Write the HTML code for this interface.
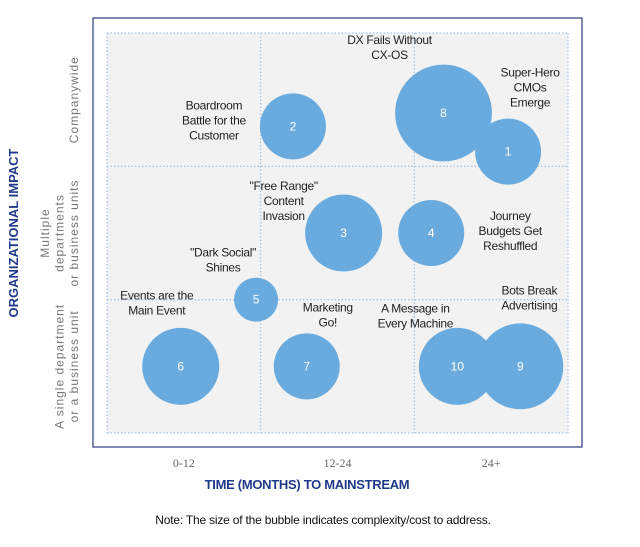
<!DOCTYPE html>
<html><head><meta charset="utf-8"><style>
body{margin:0;background:#fff;width:640px;height:547px;overflow:hidden;font-family:"Liberation Sans",Arial,sans-serif}
svg{display:block}
</style></head><body>
<svg id="chart" width="640" height="547" viewBox="0 0 640 547">
<rect x="93" y="18" width="489" height="429" fill="#fff" stroke="#2c3d7e" stroke-width="1.2"/>
<g id="plot"></g>
<text x="18" y="233" transform="rotate(-90 18 233)" text-anchor="middle" font-size="13" font-weight="bold" fill="#1f3a8a">ORGANIZATIONAL IMPACT</text>
<text x="323" y="524" text-anchor="middle" font-size="12" fill="#111" letter-spacing="-0.2">Note: The size of the bubble indicates complexity/cost to address.</text>
<text x="307" y="489" text-anchor="middle" font-size="13" font-weight="bold" fill="#1f3a8a" letter-spacing="-0.3">TIME (MONTHS) TO MAINSTREAM</text>
</svg>
<script>
const categories=["1","2","3","4","5","6","7","8","9","10"];
const xValues=[2.61,1.21,1.54,2.11,0.97,0.48,1.30,2.19,2.69,2.28];
const yValues=[2.11,2.30,1.50,1.50,1.00,0.50,0.50,2.40,0.50,0.50];
const sizes=[3.0,3.0,3.5,3.0,2.0,3.5,3.0,4.4,3.9,3.5];
const xTicks=["0-12","12-24","24+"];
const yTicks=[["A single department","or a business unit"],["Multiple","departments","or business units"],["Companywide"]];
const labels=[["Super-Hero","CMOs","Emerge"],["Boardroom","Battle for the","Customer"],["\"Free Range\"","Content","Invasion"],["Journey","Budgets Get","Reshuffled"],["\"Dark Social\"","Shines"],["Events are the","Main Event"],["Marketing","Go!"],["DX Fails Without","CX-OS"],["Bots Break","Advertising"],["A Message in","Every Machine"]];
const labelDx=[22,-79,-60,79,-33,-24,21,-54,9,-42];
const labelDy=[-75,-17,-43,-13,-43,-67,-55,-69,-72,-54];

const NS="http://www.w3.org/2000/svg";
const svg=document.getElementById('chart');
const plot=document.getElementById('plot');
const X0=107,X1=568,Y0=433,Y1=33;
const xs=v=>X0+v*(X1-X0)/3;
const ys=v=>Y0-v*(Y0-Y1)/3;
const rs=v=>v*11;
function el(t,a,p){const e=document.createElementNS(NS,t);for(const k in a)e.setAttribute(k,a[k]);(p||svg).appendChild(e);return e;}
const defs=el('defs',{});
const cp=el('clipPath',{id:'clip'},defs);el('rect',{x:X0,y:Y1,width:X1-X0,height:Y0-Y1},cp);
const bg=el('rect',{x:X0,y:Y1,width:X1-X0,height:Y0-Y1,fill:'#f2f2f2'},plot);


for(let i=0;i<=3;i++){
  const v=el('line',{x1:xs(i),x2:xs(i),y1:Y1,y2:Y0,stroke:'#a8c6e4','stroke-width':1.3,'stroke-dasharray':'1.5 2'},plot);
  
  
  const h=el('line',{x1:X0,x2:X1,y1:ys(i),y2:ys(i),stroke:'#a8c6e4','stroke-width':1.3,'stroke-dasharray':'1.5 2'},plot);
  
  
}
const bub=el('g',{'clip-path':'url(#clip)'},plot);
categories.forEach((c,i)=>{
  const cx=xs(xValues[i]),cy=ys(yValues[i]);
  const ci=el('circle',{cx:cx,cy:cy,r:rs(sizes[i]),fill:'#6aabdf'},bub);
  
  
  const t=el('text',{x:cx,y:cy+4,'text-anchor':'middle','font-size':12,fill:'#fff'},bub);
  t.textContent=c;
  
  
});
categories.forEach((c,i)=>{
  const cx=xs(xValues[i])+labelDx[i],cy=ys(yValues[i])+labelDy[i];
  const t=el('text',{'text-anchor':'middle','font-size':12,fill:'#222','letter-spacing':'-0.3'},plot);
  
  
  labels[i].forEach((ln,j)=>{const s=el('tspan',{x:cx,y:cy+j*15},t);s.textContent=ln;});
});
xTicks.forEach((tk,i)=>{
  const t=el('text',{x:xs(i+0.5),y:467,'text-anchor':'middle','font-size':12,fill:'#666','font-family':'Liberation Serif,serif'});
  t.textContent=tk;
  
  
});
yTicks.forEach((lines,i)=>{
  const cy=ys(i+0.5);const n=lines.length;
  lines.forEach((ln,j)=>{
    const x=78-(n-1-j)*14.5;
    const t=el('text',{x:x,y:cy,transform:'rotate(-90 '+x+' '+cy+')','text-anchor':'middle','font-size':12,fill:'#777','letter-spacing':'1'});
    t.textContent=ln;
    
    
  });
});
</script>
</body></html>
